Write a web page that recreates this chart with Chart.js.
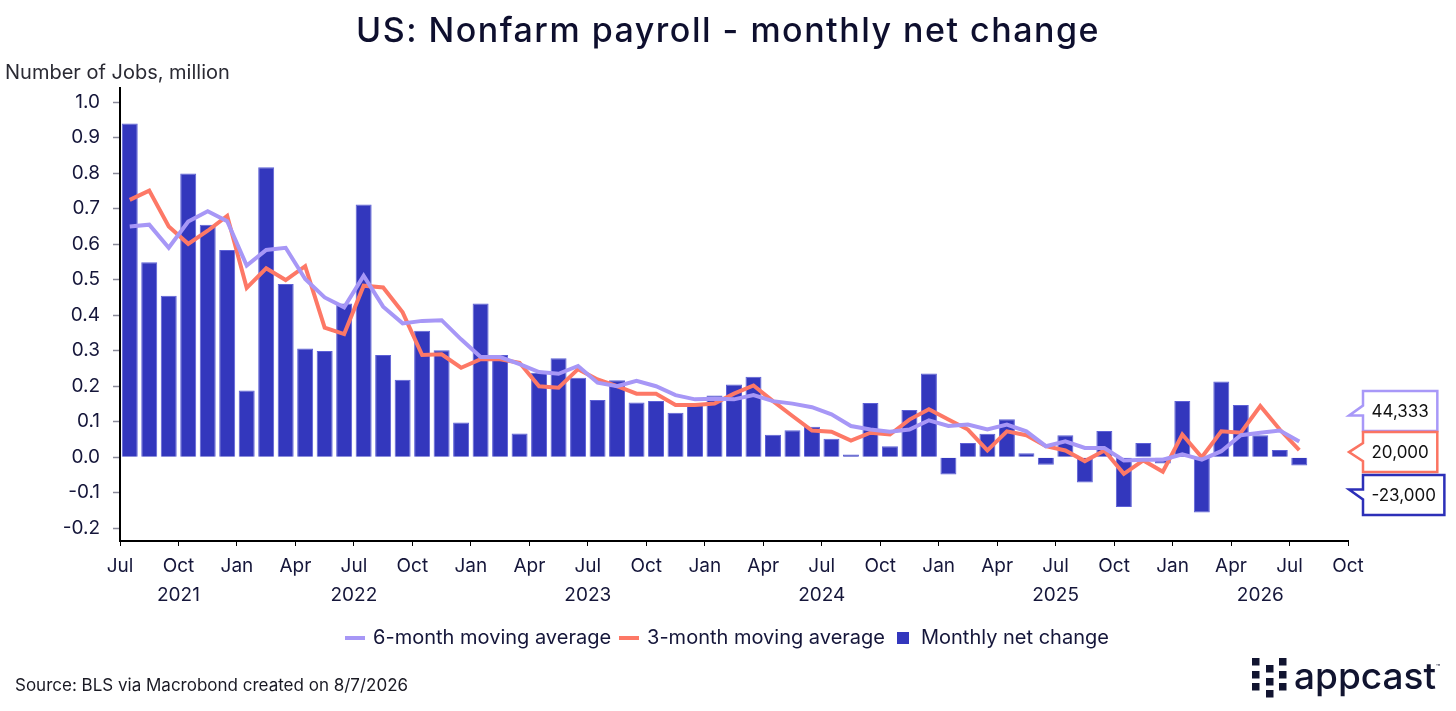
<!DOCTYPE html>
<html>
<head>
<meta charset="utf-8">
<title>US: Nonfarm payroll - monthly net change</title>
<script src="https://cdn.jsdelivr.net/npm/chart.js@4.4.1/dist/chart.umd.min.js"></script>
<style>
  html, body { margin: 0; padding: 0; background: #fff; }
  #chart { display: block; }
</style>
</head>
<body>
<canvas id="chart" width="1456" height="711"></canvas>
<script>
// months shown, Jul 2021 .. Jul 2026
const months = [
  '2021-07','2021-08','2021-09','2021-10','2021-11','2021-12',
  '2022-01','2022-02','2022-03','2022-04','2022-05','2022-06','2022-07','2022-08','2022-09','2022-10','2022-11','2022-12',
  '2023-01','2023-02','2023-03','2023-04','2023-05','2023-06','2023-07','2023-08','2023-09','2023-10','2023-11','2023-12',
  '2024-01','2024-02','2024-03','2024-04','2024-05','2024-06','2024-07','2024-08','2024-09','2024-10','2024-11','2024-12',
  '2025-01','2025-02','2025-03','2025-04','2025-05','2025-06','2025-07','2025-08','2025-09','2025-10','2025-11','2025-12',
  '2026-01','2026-02','2026-03','2026-04','2026-05','2026-06','2026-07'
];

// million jobs
const monthly = [
  0.940, 0.549, 0.455, 0.799, 0.655, 0.584,
  0.188, 0.817, 0.488, 0.306, 0.299, 0.433, 0.712, 0.288, 0.218, 0.356, 0.301, 0.098,
  0.433, 0.288, 0.067, 0.238, 0.279, 0.224, 0.161, 0.217, 0.154, 0.158, 0.125, 0.149,
  0.174, 0.205, 0.227, 0.063, 0.076, 0.086, 0.052, 0.008, 0.153, 0.031, 0.133, 0.236,
  -0.049, 0.040, 0.066, 0.107, 0.011, -0.021, 0.062, -0.071, 0.074, -0.140, 0.040, -0.018,
  0.158, -0.156, 0.213, 0.147, 0.062, 0.020, -0.023
];

const avg3 = [
  0.725, 0.751, 0.650, 0.601, 0.638, 0.680,
  0.477, 0.532, 0.499, 0.538, 0.365, 0.347, 0.483, 0.478, 0.408, 0.288, 0.290, 0.252,
  0.276, 0.276, 0.266, 0.200, 0.196, 0.248, 0.219, 0.200, 0.179, 0.179, 0.147, 0.147,
  0.151, 0.179, 0.202, 0.158, 0.116, 0.075, 0.072, 0.047, 0.069, 0.064, 0.106, 0.135,
  0.106, 0.078, 0.019, 0.073, 0.062, 0.031, 0.019, -0.011, 0.019, -0.047, -0.009, -0.041,
  0.064, 0.000, 0.073, 0.069, 0.144, 0.078, 0.020
];

const avg6 = [
  0.650, 0.655, 0.590, 0.664, 0.693, 0.665,
  0.540, 0.584, 0.590, 0.502, 0.450, 0.422, 0.511, 0.424, 0.377, 0.384, 0.386, 0.332,
  0.282, 0.282, 0.262, 0.240, 0.235, 0.257, 0.210, 0.200, 0.215, 0.200, 0.175, 0.163,
  0.165, 0.163, 0.175, 0.158, 0.151, 0.141, 0.121, 0.088, 0.078, 0.072, 0.078, 0.104,
  0.088, 0.092, 0.078, 0.092, 0.073, 0.031, 0.045, 0.026, 0.026, -0.009, -0.007, -0.007,
  0.008, -0.007, 0.017, 0.062, 0.069, 0.075, 0.044333
];

// axis labels
const quarterLabels = ['Jul','Oct','Jan','Apr','Jul','Oct','Jan','Apr','Jul','Oct','Jan','Apr',
                       'Jul','Oct','Jan','Apr','Jul','Oct','Jan','Apr','Jul','Oct'];
const yearLabels = ['2021','2022','2023','2024','2025','2026'];
const yTicks = [-0.2, -0.1, 0.0, 0.1, 0.2, 0.3, 0.4, 0.5, 0.6, 0.7, 0.8, 0.9, 1.0];

const LAVENDER = '#a797f6';
const CORAL = '#fd7866';
const BLUE = '#3337bd';
const INK = '#15163a';
const FONT = 'Inter, "DejaVu Sans", sans-serif';

// x axis runs in months from Jul 2021, bars sit mid-month
const axisMonths = (quarterLabels.length - 1) * 3;
const toPoints = arr => arr.map((v, i) => ({ x: i + 0.5, y: v }));
const startYear = +months[0].slice(0, 4);
const startMonth = +months[0].slice(5, 7);
const yearMids = yearLabels.map(y => {
  const jan = (+y - startYear) * 12 - (startMonth - 1);
  return (Math.max(0, jan) + Math.min(axisMonths, jan + 12)) / 2;
});

// legend swatches
function swatch(w, h, color) {
  const c = document.createElement('canvas');
  c.width = w; c.height = h;
  const g = c.getContext('2d');
  g.fillStyle = color;
  g.fillRect(0, 0, w, h);
  return c;
}

// title, axis title, source, logo and end-value callouts
const decorations = {
  id: 'decorations',
  afterDraw(chart) {
    const { ctx, chartArea } = chart;
    const ys = chart.scales.y;
    ctx.save();
    ctx.fillStyle = '#0e0f2e';
    ctx.textAlign = 'center';
    ctx.textBaseline = 'alphabetic';
    ctx.font = '500 34px ' + FONT;
    ctx.letterSpacing = '1.5px';
    ctx.fillText('US: Nonfarm payroll - monthly net change', 728, 42);
    ctx.letterSpacing = '0px';

    ctx.textAlign = 'left';
    ctx.fillStyle = '#2a2a33';
    ctx.font = '20px ' + FONT;
    ctx.fillText('Number of Jobs, million', 5, 79);

    ctx.fillStyle = '#1a1a24';
    ctx.font = '17px ' + FONT;
    ctx.fillText('Source: BLS via Macrobond created on 8/7/2026', 15, 691);

    // appcast mark
    ctx.fillStyle = '#111430';
    [[1252, 658], [1252, 671], [1252, 683],
     [1266, 665], [1266, 678], [1266, 690],
     [1279, 658], [1279, 671], [1279, 683]].forEach(([x, y]) => ctx.fillRect(x, y, 7.5, 7.5));
    ctx.font = '500 37px ' + FONT;
    ctx.fillText('appcast', 1294, 689);
    ctx.font = '7px ' + FONT;
    ctx.fillText('™', 1436, 670);

    // callouts for latest values
    const last = arr => arr[arr.length - 1];
    const fmt = v => Math.round(v * 1e6).toLocaleString('en-US');
    const midY = ys.getPixelForValue(last(avg3)) + 2;
    const boxes = [
      { text: fmt(last(avg6)), color: '#a898f8', cy: midY - 41, notch: [4.5, 4.5, -5.5] },
      { text: fmt(last(avg3)), color: '#fb7462', cy: midY, notch: [9, 0, -9] },
      { text: fmt(last(monthly)), color: '#2c2fb8', cy: midY + 43, notch: [4.3, -5.7, -5.7] }
    ];
    const L = chartArea.right + 15;
    const tipX = chartArea.right + 1;
    ctx.font = '17px ' + FONT;
    ctx.lineWidth = 2.5;
    ctx.lineJoin = 'miter';
    boxes.forEach(b => {
      const w = ctx.measureText(b.text).width + 17;
      const top = b.cy - 20, bot = b.cy + 20;
      ctx.beginPath();
      ctx.moveTo(L, top);
      ctx.lineTo(L + w, top);
      ctx.lineTo(L + w, bot);
      ctx.lineTo(L, bot);
      ctx.lineTo(L, b.cy + b.notch[0]);
      ctx.lineTo(tipX, b.cy + b.notch[1]);
      ctx.lineTo(L, b.cy + b.notch[2]);
      ctx.closePath();
      ctx.fillStyle = '#fff';
      ctx.fill();
      ctx.strokeStyle = b.color;
      ctx.stroke();
      ctx.fillStyle = '#111';
      ctx.textAlign = 'center';
      ctx.textBaseline = 'middle';
      ctx.fillText(b.text, L + w / 2, b.cy + 1);
    });
    ctx.restore();
  }
};

Chart.defaults.font.family = FONT;
Chart.defaults.color = INK;

new Chart(document.getElementById('chart'), {
  type: 'bar',
  data: {
    datasets: [
      {
        type: 'line',
        label: '6-month moving average',
        data: toPoints(avg6),
        borderColor: LAVENDER,
        borderWidth: 4,
        pointRadius: 0,
        pointStyle: swatch(20, 4, LAVENDER),
        tension: 0,
        order: 1
      },
      {
        type: 'line',
        label: '3-month moving average',
        data: toPoints(avg3),
        borderColor: CORAL,
        borderWidth: 4,
        pointRadius: 0,
        pointStyle: swatch(20, 4, CORAL),
        tension: 0,
        order: 2
      },
      {
        type: 'bar',
        label: 'Monthly net change',
        data: toPoints(monthly),
        backgroundColor: BLUE,
        borderColor: '#5d60d6',
        borderWidth: 1,
        barPercentage: 0.82,
        categoryPercentage: 1,
        pointStyle: swatch(12, 12, BLUE),
        order: 3
      }
    ]
  },
  options: {
    responsive: false,
    animation: false,
    layout: { padding: { top: 88, bottom: 53, left: 0, right: 0 } },
    plugins: {
      legend: {
        position: 'bottom',
        labels: {
          usePointStyle: true,
          pointStyleWidth: 16,
          boxHeight: 12,
          padding: 10,
          color: INK,
          font: { size: 20 }
        }
      },
      tooltip: { enabled: false }
    },
    scales: {
      x: {
        type: 'linear',
        min: 0,
        max: axisMonths,
        offset: false,
        grid: { drawOnChartArea: false, offset: false, tickLength: 5, color: '#000', tickColor: '#000' },
        border: { color: '#000', width: 2 },
        ticks: {
          autoSkip: false, maxRotation: 0, padding: 9,
          font: { size: 19 }, color: INK,
          callback: (v, i) => quarterLabels[i]
        },
        afterBuildTicks: s => { s.ticks = quarterLabels.map((_, k) => ({ value: k * 3 })); },
        afterFit: s => { s.height = 40; }
      },
      years: {
        type: 'linear',
        position: 'bottom',
        weight: 1,
        min: 0,
        max: axisMonths,
        offset: false,
        grid: { display: false, drawTicks: false, offset: false },
        border: { display: false },
        ticks: {
          autoSkip: false, maxRotation: 0, padding: 3,
          font: { size: 19 }, color: INK,
          callback: (v, i) => yearLabels[i]
        },
        afterBuildTicks: s => { s.ticks = yearMids.map(v => ({ value: v })); },
        afterFit: s => { s.height = 37; }
      },
      y: {
        type: 'linear',
        min: -0.236,
        max: 1.04,
        grid: { drawOnChartArea: false, tickLength: 7, tickColor: '#8a8a99', tickWidth: 1.5 },
        border: { color: '#000', width: 2 },
        ticks: {
          padding: 13, font: { size: 19 }, color: INK,
          callback: v => v.toFixed(1)
        },
        afterBuildTicks: s => { s.ticks = yTicks.map(v => ({ value: v })); },
        afterFit: s => { s.width = 120; }
      },
      pad: {
        type: 'linear',
        position: 'right',
        grid: { display: false },
        border: { display: false },
        ticks: { display: false },
        afterFit: s => { s.width = 108; }
      }
    }
  },
  plugins: [decorations]
});
</script>
</body>
</html>
